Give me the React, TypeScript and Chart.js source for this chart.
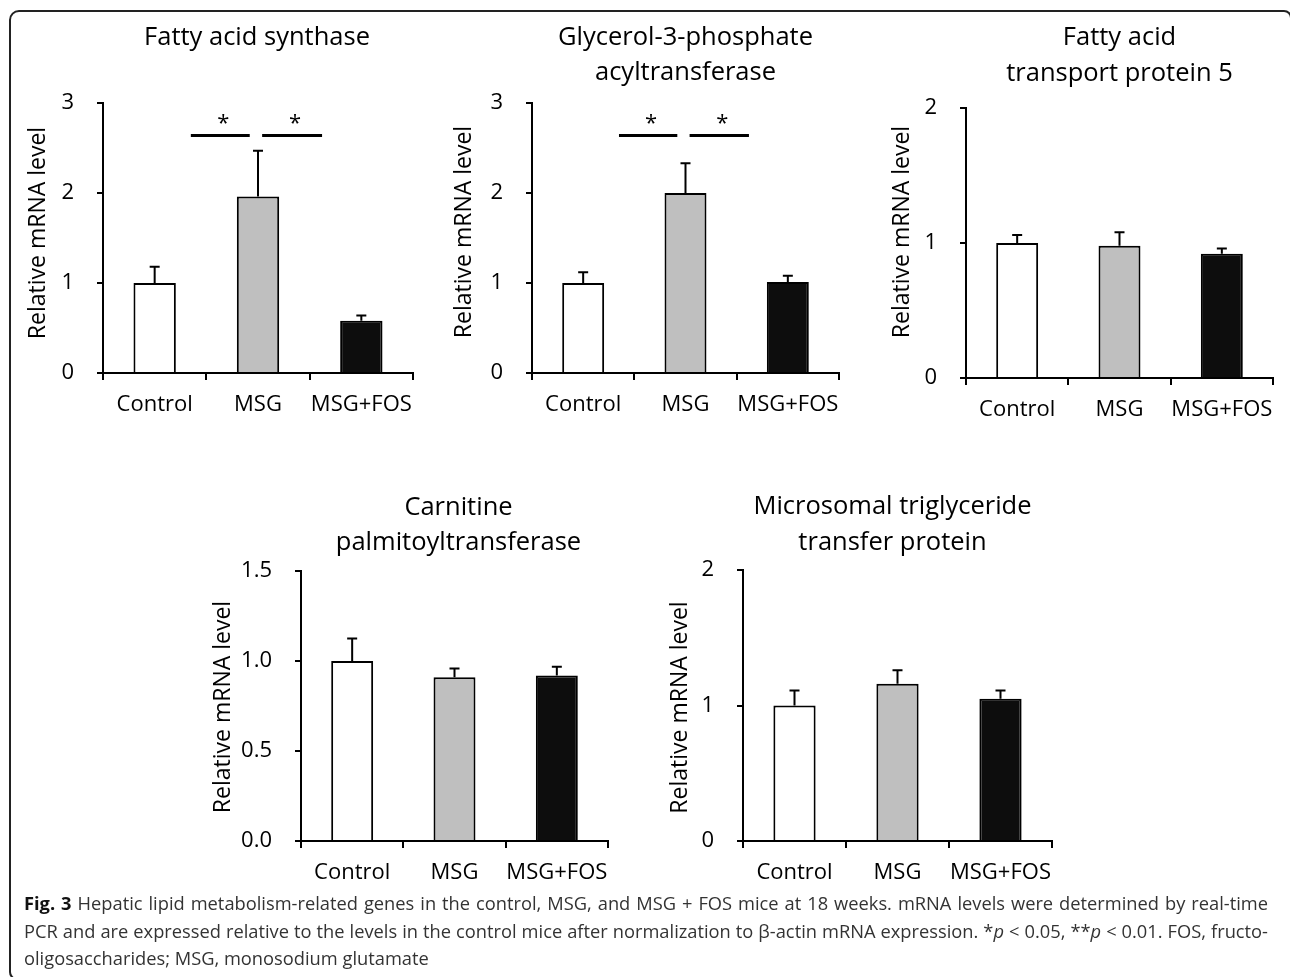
import React, { useEffect, useRef } from "react";
import { Chart, registerables } from "chart.js";

Chart.register(...registerables);

// ---------- data ----------
const categories = ["Control", "MSG", "MSG+FOS"];

const fasMeans = [1.0, 1.96, 0.58];
const fasErr = [0.18, 0.51, 0.06];

const gpatMeans = [1.0, 2.0, 1.01];
const gpatErr = [0.12, 0.33, 0.07];

const fatp5Means = [1.0, 0.98, 0.92];
const fatp5Err = [0.06, 0.1, 0.04];

const cptMeans = [1.0, 0.91, 0.92];
const cptErr = [0.125, 0.048, 0.048];

const mtpMeans = [1.0, 1.16, 1.05];
const mtpErr = [0.11, 0.1, 0.06];

// significance brackets (category-index units)
const sigStart = [0.35, 1.04];
const sigEnd = [0.92, 1.62];
const sigMarks = ["*", "*"];
const sigLevel = 2.64;

const barColors = ["#ffffff", "#bfbfbf", "#0d0d0d"];
const FONT = '"Open Sans", "DejaVu Sans", sans-serif';
const FS = 22;
const TITLE_FS = 25.5;
const YT_FS = 23;

type PanelSpec = {
  title: string[];
  means: number[];
  errs: number[];
  yMax: number;
  yStep: number;
  decimals: number;
  sig: boolean;
  area: { L: number; T: number; R: number; B: number };
  titleDy: number;
  titleGap: number;
  titleDx: number;
  yTitleDx: number;
  yTitleDy: number;
};

const panels: PanelSpec[] = [
  {
    title: ["Fatty acid synthase"],
    means: fasMeans, errs: fasErr, yMax: 3, yStep: 1, decimals: 0, sig: true,
    area: { L: 103, T: 103, R: 413, B: 373 },
    titleDy: -65, titleGap: 35, titleDx: -1, yTitleDx: -65, yTitleDy: -5,
  },
  {
    title: ["Glycerol-3-phosphate", "acyltransferase"],
    means: gpatMeans, errs: gpatErr, yMax: 3, yStep: 1, decimals: 0, sig: true,
    area: { L: 532, T: 103, R: 839, B: 373 },
    titleDy: -65, titleGap: 35, titleDx: 0, yTitleDx: -68, yTitleDy: -6,
  },
  {
    title: ["Fatty acid", "transport protein 5"],
    means: fatp5Means, errs: fatp5Err, yMax: 2, yStep: 1, decimals: 0, sig: false,
    area: { L: 966, T: 108, R: 1273, B: 378 },
    titleDy: -70, titleGap: 36, titleDx: 0, yTitleDx: -64, yTitleDy: -11,
  },
  {
    title: ["Carnitine", "palmitoyltransferase"],
    means: cptMeans, errs: cptErr, yMax: 1.5, yStep: 0.5, decimals: 1, sig: false,
    area: { L: 301, T: 571, R: 608, B: 841 },
    titleDy: -63, titleGap: 35, titleDx: 4, yTitleDx: -78, yTitleDy: 1,
  },
  {
    title: ["Microsomal triglyceride", "transfer protein"],
    means: mtpMeans, errs: mtpErr, yMax: 2, yStep: 1, decimals: 0, sig: false,
    area: { L: 743, T: 570, R: 1052, B: 841 },
    titleDy: -63, titleGap: 36, titleDx: -5, yTitleDx: -63, yTitleDy: 2,
  },
];

const PAD_L = 105;
const PAD_T = 105;
const PAD_R = 20;
const PAD_B = 10;
const X_H = 60;

const decorPlugin = {
  id: "panelDecor",
  afterDatasetsDraw(chart: any, _args: any, opts: any) {
    const { ctx, scales } = chart;
    const xs = scales.x;
    const ys = scales.y;
    const meta = chart.getDatasetMeta(0);
    const data = chart.data.datasets[0].data as number[];
    ctx.save();
    ctx.strokeStyle = "#000";
    ctx.lineWidth = 2;
    // error bars (upper only)
    (opts.errs as number[]).forEach((e, i) => {
      const bar = meta.data[i];
      const top = ys.getPixelForValue(data[i] + e);
      const base = ys.getPixelForValue(data[i]);
      ctx.beginPath();
      ctx.moveTo(bar.x, base);
      ctx.lineTo(bar.x, top);
      ctx.moveTo(bar.x - 5, top);
      ctx.lineTo(bar.x + 5, top);
      ctx.stroke();
    });
    // significance lines
    if (opts.sig) {
      const p0 = xs.getPixelForValue(0);
      const p1 = xs.getPixelForValue(1);
      const cw = p1 - p0;
      const ly = ys.getPixelForValue(sigLevel);
      ctx.lineWidth = 3;
      ctx.fillStyle = "#000";
      ctx.font = `${FS}px ${FONT}`;
      ctx.textAlign = "center";
      ctx.textBaseline = "alphabetic";
      sigStart.forEach((s, k) => {
        const a = p0 + s * cw;
        const b = p0 + sigEnd[k] * cw;
        ctx.beginPath();
        ctx.moveTo(a, ly);
        ctx.lineTo(b, ly);
        ctx.stroke();
        ctx.fillText(sigMarks[k], (a + b) / 2 + 3, ly - 5);
      });
    }
    ctx.restore();
  },
  afterDraw(chart: any, _args: any, opts: any) {
    const { ctx, chartArea } = chart;
    ctx.save();
    ctx.fillStyle = "#000";
    ctx.font = `${TITLE_FS}px ${FONT}`;
    ctx.textAlign = "center";
    ctx.textBaseline = "middle";
    const cx = (chartArea.left + chartArea.right) / 2 + opts.titleDx;
    (opts.title as string[]).forEach((t, i) => {
      ctx.fillText(t, cx, chartArea.top + opts.titleDy + i * opts.titleGap);
    });
    // y-axis title
    ctx.font = `${YT_FS}px ${FONT}`;
    ctx.translate(
      chartArea.left + opts.yTitleDx,
      (chartArea.top + chartArea.bottom) / 2 + opts.yTitleDy
    );
    ctx.rotate(-Math.PI / 2);
    ctx.fillText("Relative mRNA level", 0, 0);
    ctx.restore();
  },
};

function Panel({ spec }: { spec: PanelSpec }) {
  const ref = useRef<HTMLCanvasElement>(null);
  const { L, T, R, B } = spec.area;
  const w = R - L + PAD_L + PAD_R;
  const h = B - T + PAD_T + X_H + PAD_B;
  useEffect(() => {
    if (!ref.current) return;
    const chart = new Chart(ref.current, {
      type: "bar",
      data: {
        labels: categories,
        datasets: [
          {
            data: spec.means,
            backgroundColor: barColors,
            borderColor: "#000",
            borderWidth: 2,
            barPercentage: 0.41,
            categoryPercentage: 1,
          },
        ],
      },
      plugins: [decorPlugin],
      options: {
        responsive: false,
        animation: false,
        events: [],
        layout: { padding: { left: 0, top: PAD_T, right: PAD_R, bottom: PAD_B } },
        plugins: {
          legend: { display: false },
          title: { display: false },
          tooltip: { enabled: false },
          panelDecor: {
            errs: spec.errs,
            sig: spec.sig,
            title: spec.title,
            titleDy: spec.titleDy,
            titleGap: spec.titleGap,
            titleDx: spec.titleDx,
            yTitleDx: spec.yTitleDx,
            yTitleDy: spec.yTitleDy,
          },
        } as any,
        scales: {
          x: {
            type: "category",
            offset: true,
            afterFit: (s: any) => {
              s.height = X_H;
            },
            grid: {
              display: true,
              offset: true,
              drawOnChartArea: false,
              drawTicks: true,
              tickLength: 7,
              color: "#000",
              lineWidth: 2,
            },
            border: { display: true, color: "#000", width: 2 },
            ticks: {
              color: "#000",
              font: { family: FONT, size: FS },
              padding: 12,
              maxRotation: 0,
              autoSkip: false,
            },
          },
          y: {
            min: 0,
            max: spec.yMax,
            afterFit: (s: any) => {
              s.width = PAD_L;
            },
            grid: {
              display: true,
              drawOnChartArea: false,
              drawTicks: true,
              tickLength: 6,
              color: "#000",
              lineWidth: 2,
            },
            border: { display: true, color: "#000", width: 2 },
            ticks: {
              stepSize: spec.yStep,
              color: "#000",
              font: { family: FONT, size: FS },
              padding: 23,
              callback: (v: any) => Number(v).toFixed(spec.decimals),
            },
          },
        },
      } as any,
    });
    return () => chart.destroy();
  }, [spec]);
  return (
    <canvas
      ref={ref}
      width={w}
      height={h}
      style={{
        position: "absolute",
        left: L - PAD_L,
        top: T - PAD_T,
        width: w,
        height: h,
      }}
    />
  );
}

const captionStyle: React.CSSProperties = {
  position: "absolute",
  left: 24,
  width: 1244,
  fontFamily: FONT,
  fontSize: 18.3,
  lineHeight: "27px",
  color: "#333",
  whiteSpace: "nowrap",
  textAlign: "justify",
  textAlignLast: "justify" as any,
};

export default function App() {
  return (
    <div
      style={{
        position: "absolute",
        left: 0,
        top: 0,
        width: 1290,
        height: 977,
        overflow: "hidden",
        background: "#fff",
      }}
    >
      <div
        style={{
          position: "absolute",
          left: 9,
          top: 10,
          width: 1283,
          height: 970,
          border: "2px solid #222",
          borderTopLeftRadius: 10,
          borderTopRightRadius: 8,
          borderBottomLeftRadius: 8,
          boxSizing: "border-box",
        }}
      />
      {panels.map((p, i) => (
        <Panel key={i} spec={p} />
      ))}
      <div style={{ ...captionStyle, top: 889 }}>
        <b style={{ color: "#111" }}>Fig. 3</b> Hepatic lipid metabolism-related genes in the control, MSG, and MSG + FOS mice at 18 weeks. mRNA levels were determined by real-time
      </div>
      <div style={{ ...captionStyle, top: 917 }}>
        PCR and are expressed relative to the levels in the control mice after normalization to β-actin mRNA expression. *<i>p</i> &lt; 0.05, **<i>p</i> &lt; 0.01. FOS, fructo-
      </div>
      <div style={{ ...captionStyle, top: 944, textAlign: "left", textAlignLast: "left" as any }}>
        oligosaccharides; MSG, monosodium glutamate
      </div>
    </div>
  );
}
